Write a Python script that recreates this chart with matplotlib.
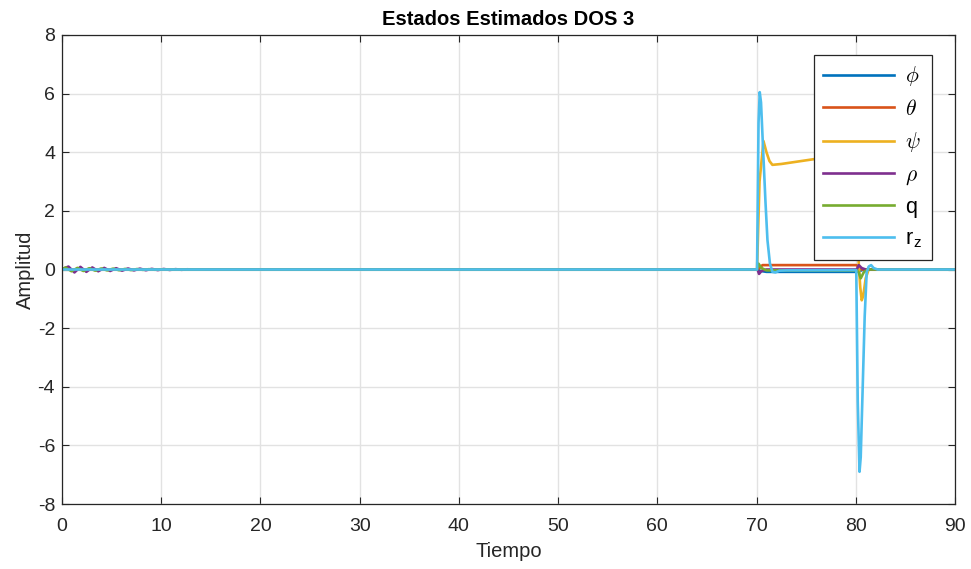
import matplotlib
matplotlib.use("Agg")
import matplotlib.pyplot as plt

plt.rcParams['font.family'] = ['Liberation Sans', 'DejaVu Sans']
plt.rcParams['mathtext.fontset'] = 'cm'
plt.rcParams['axes.unicode_minus'] = False

# Estimated states (time knots in seconds, amplitudes)
phi_t = [0, 70.1, 70.4, 71.0, 80.1, 80.4, 80.8, 90]
phi_v = [0, 0, -0.05, -0.08, -0.08, -0.05, 0, 0]

theta_t = [0, 70.1, 70.3, 70.6, 80.05, 80.3, 80.6, 90]
theta_v = [0, 0, 0.05, 0.15, 0.15, 0.1, 0, 0]

psi_t = [0, 70.05, 70.3, 70.7, 71.0, 71.3, 71.6, 72.5, 75.9, 80.15, 80.3, 80.45, 80.6, 80.75, 81.0, 81.3, 90]
psi_v = [0, 0, 3.0, 4.38, 4.0, 3.7, 3.57, 3.6, 3.77, 3.97, 0.2, -0.6, -1.05, -0.9, -0.3, 0, 0]

rho_t = [0, 0.35, 0.65, 1.25, 1.85, 2.45, 3.05, 3.65, 4.25, 4.85, 5.45, 6.05, 6.65,
         7.25, 7.85, 8.45, 9.05, 9.65, 10.25, 10.85, 11.45, 12.05, 12.65, 13.25,
         14.0, 15.0, 70.1, 70.25, 70.5, 71.0, 80.1, 80.3, 80.6, 81.0, 90]
rho_v = [0, 0.06, 0.1, -0.1, 0.09, -0.08, 0.07, -0.06, 0.055, -0.05, 0.045, -0.04, 0.035,
         -0.03, 0.03, -0.025, 0.022, -0.02, 0.018, -0.015, 0.012, -0.01, 0.008, -0.006,
         0.003, 0, 0, -0.15, -0.05, 0, 0, 0.15, 0.05, 0, 0]

q_t = [0, 0.35, 0.95, 1.55, 2.15, 2.75, 3.35, 3.95, 4.55, 5.15, 5.75, 6.35, 6.95,
       7.55, 8.15, 8.75, 9.35, 9.95, 11.0, 70.05, 70.2, 70.5, 71.0, 80.1, 80.3, 80.5,
       80.8, 81.2, 90]
q_v = [0, 0.07, -0.06, 0.055, -0.05, 0.045, -0.04, 0.035, -0.03, 0.03, -0.025, 0.02,
       -0.02, 0.015, -0.012, 0.01, -0.008, 0.005, 0, 0, 0.2, 0.05, -0.03, -0.03, -0.1,
       -0.3, -0.1, 0, 0]

rz_t = [0, 70.05, 70.2, 70.32, 70.45, 70.7, 70.9, 71.1, 71.35, 71.6, 71.9, 72.3, 73.0,
        80.05, 80.2, 80.38, 80.5, 80.7, 80.9, 81.1, 81.3, 81.55, 81.8, 82.2, 90]
rz_v = [0, 0, 5.0, 6.05, 5.7, 3.8, 2.3, 1.0, 0.2, -0.08, -0.1, -0.04, -0.03,
        -0.02, -4.5, -6.9, -6.4, -4.0, -1.6, -0.1, 0.1, 0.15, 0.05, 0, 0]

labels = [r'$\phi$', r'$\theta$', r'$\psi$', r'$\rho$', 'q', r'r$_\mathregular{z}$']
colors = ['#0072BD', '#D95319', '#EDB120', '#7E2F8E', '#77AC30', '#4DBEEE']
series = [(phi_t, phi_v), (theta_t, theta_v), (psi_t, psi_v),
          (rho_t, rho_v), (q_t, q_v), (rz_t, rz_v)]

x_ticks = [0, 10, 20, 30, 40, 50, 60, 70, 80, 90]
y_ticks = [-8, -6, -4, -2, 0, 2, 4, 6, 8]

fig = plt.figure(figsize=(9.71, 5.69), dpi=100)
ax = fig.add_axes([0.0639, 0.1142, 0.9196, 0.8243])

for (t, v), lab, c in zip(series, labels, colors):
    ax.plot(t, v, color=c, lw=1.9, label=lab, solid_joinstyle='round')

ax.set_xlim(0, 90)
ax.set_ylim(-8, 8)
ax.set_xticks(x_ticks)
ax.set_yticks(y_ticks)
ax.grid(True, color='#e2e2e2', lw=1.0)
ax.set_axisbelow(True)
ax.tick_params(direction='in', length=5, width=0.8, labelsize=14, colors='#262626',
               top=True, right=True)
ax.tick_params(axis='x', pad=10)
ax.tick_params(axis='y', pad=5)
for s in ax.spines.values():
    s.set_color('#262626')
    s.set_linewidth(0.9)

ax.set_title('Estados Estimados DOS 3', fontsize=14.5, fontweight='bold', pad=7)
ax.set_xlabel('Tiempo', fontsize=14.5, color='#262626', labelpad=5)
ax.set_ylabel('Amplitud', fontsize=14.5, color='#262626', labelpad=2)

leg = ax.legend(loc='upper right', bbox_to_anchor=(0.974, 0.958), fontsize=15.5,
                handlelength=3.3, labelspacing=0.48, borderaxespad=0, fancybox=False,
                framealpha=1, edgecolor='#262626', handletextpad=0.5, borderpad=0.45)
leg.get_frame().set_linewidth(0.9)

fig.savefig('out.png', dpi=100)
